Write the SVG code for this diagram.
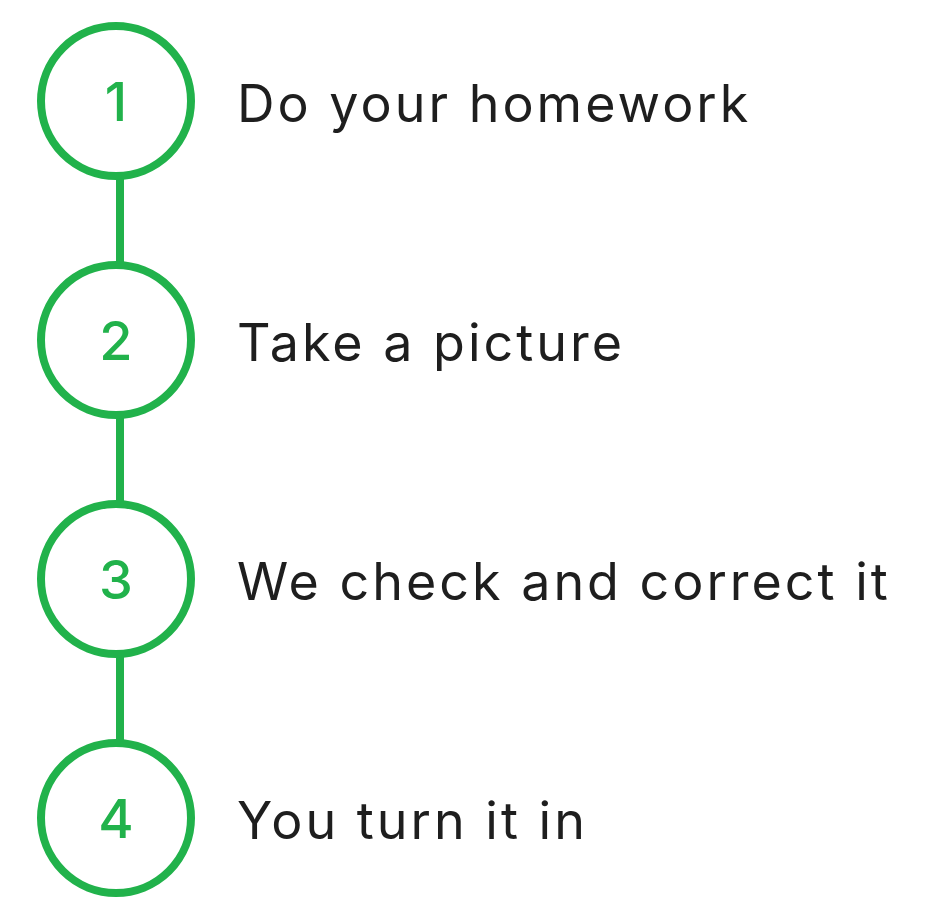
<svg xmlns="http://www.w3.org/2000/svg" width="927" height="906" viewBox="0 0 927 906">
<style>
.c{fill:#fff;stroke:#21b24b;stroke-width:8}
.n{font-family:Inter,"Liberation Sans",sans-serif;font-size:54px;font-weight:500;fill:#21b24b;text-anchor:middle}
.t{font-family:Inter,"Liberation Sans",sans-serif;font-size:52px;fill:#1e1e1e;letter-spacing:3px}
.l{stroke:#21b24b;stroke-width:8}
</style>
<rect width="927" height="906" fill="#fff"/>
<g id="connectors">
<line class="l" x1="120" y1="176" x2="120" y2="266"/>
<line class="l" x1="120" y1="415" x2="120" y2="505"/>
<line class="l" x1="120" y1="654" x2="120" y2="744"/>
</g>
<g id="step1"><circle class="c" cx="116" cy="101" r="75"/><text class="n" x="116" y="121">1</text><text class="t" x="237" y="122">Do your homework</text></g>
<g id="step2"><circle class="c" cx="116" cy="340" r="75"/><text class="n" x="116" y="360">2</text><text class="t" x="237" y="361">Take a picture</text></g>
<g id="step3"><circle class="c" cx="116" cy="579" r="75"/><text class="n" x="116" y="599">3</text><text class="t" x="237" y="600">We check and correct it</text></g>
<g id="step4"><circle class="c" cx="116" cy="818" r="75"/><text class="n" x="116" y="838">4</text><text class="t" x="237" y="839">You turn it in</text></g>
</svg>
